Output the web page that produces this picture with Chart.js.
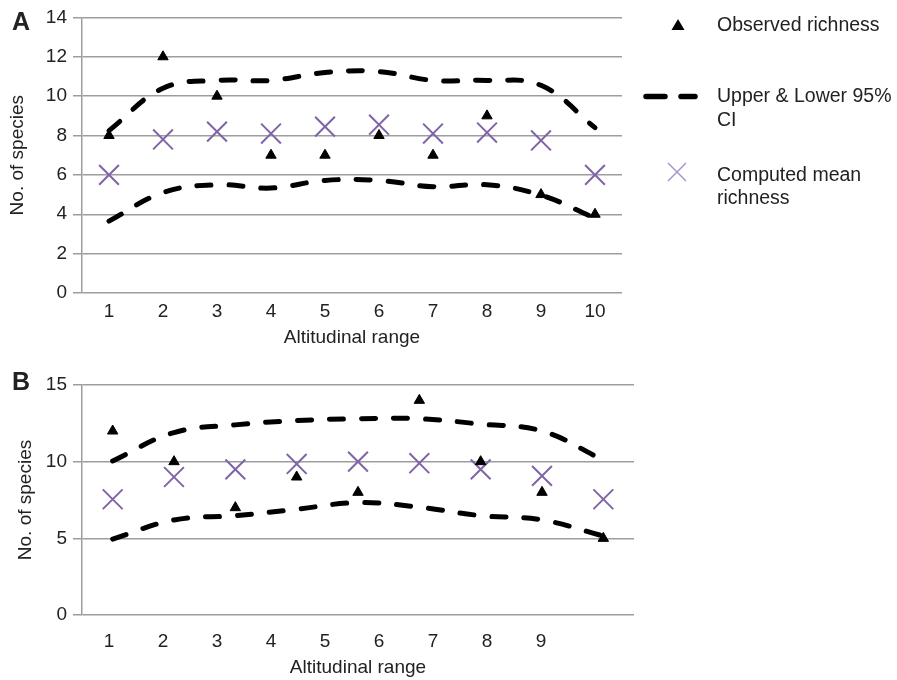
<!DOCTYPE html>
<html>
<head>
<meta charset="utf-8">
<script src="https://cdn.jsdelivr.net/npm/chart.js@4.4.0/dist/chart.umd.min.js"></script>
<style>
  body { margin: 0; background: #fff; }
  .panel { position: absolute; left: 0; width: 897px; }
  #panelA { top: 0; height: 360px; }
  #panelB { top: 360px; height: 320px; }
</style>
</head>
<body>
<div class="panel" id="panelA"><canvas id="chartA"></canvas></div>
<div class="panel" id="panelB"><canvas id="chartB"></canvas></div>
<script>
// Panel A - ten altitudinal ranges
const rangesA = ['1', '2', '3', '4', '5', '6', '7', '8', '9', '10'];
const observedA = [8, 12, 10, 7, 7, 8, 7, 9, 5, 4];
const meanA = [6, 7.8, 8.2, 8.1, 8.45, 8.55, 8.1, 8.15, 7.75, 6];
const upperA = [8.25, 10.4, 10.8, 10.8, 11.2, 11.25, 10.8, 10.8, 10.55, 8.4];
const lowerA = [3.65, 5.1, 5.5, 5.33, 5.72, 5.72, 5.4, 5.5, 4.97, 3.8];

// Panel B - nine ranges, tick labels printed on the ten-slot axis of panel A
const rangesB = ['1', '2', '3', '4', '5', '6', '7', '8', '9'];
const observedB = [12, 10, 7, 9, 8, 14, 10, 8, 5];
const meanB = [7.55, 9.0, 9.5, 9.85, 10.0, 9.9, 9.5, 9.07, 7.55];
const upperB = [10.05, 11.9, 12.4, 12.68, 12.8, 12.8, 12.45, 12.0, 10.1];
const lowerB = [4.95, 6.2, 6.48, 6.9, 7.33, 7.03, 6.48, 6.2, 5.15];
const tickLabelsB = [1, 2, 3, 4, 5, 6, 7, 8, 9];

const legendLabels = ['Observed richness', ['Upper & Lower 95%', 'CI'], ['Computed mean', 'richness']];

const FONT = '"Liberation Sans", Arial, Helvetica, sans-serif';
const TEXT = '#222';
const GRID = '#9d9d9d';
const PURPLE = '#8064a8';

function buildDatasets(observed, mean, upper, lower) {
  const dashed = {
    borderColor: '#000',
    borderWidth: 5,
    borderDash: [14, 18],
    borderCapStyle: 'round',
    tension: 0.4,
    pointRadius: 0,
    fill: false
  };
  return [
    {
      label: 'Observed richness',
      data: observed,
      showLine: false,
      pointStyle: 'triangle',
      pointRadius: 6,
      pointBackgroundColor: '#000',
      pointBorderColor: '#000',
      pointBorderWidth: 1
    },
    {
      label: 'Computed mean richness',
      data: mean,
      showLine: false,
      pointStyle: 'crossRot',
      pointRadius: 14,
      pointBorderColor: PURPLE,
      pointBorderWidth: 2
    },
    Object.assign({ label: 'Upper 95% CI', data: upper }, dashed),
    Object.assign({ label: 'Lower 95% CI', data: lower }, dashed)
  ];
}

// big bold panel letter in the top left corner
const panelLabel = {
  id: 'panelLabel',
  afterDraw(chart, args, opts) {
    const ctx = chart.ctx;
    ctx.save();
    ctx.font = 'bold 25px ' + FONT;
    ctx.fillStyle = TEXT;
    ctx.textBaseline = 'middle';
    ctx.fillText(opts.text, 12, opts.y);
    ctx.restore();
  }
};

// legend to the right of panel A
const sideLegend = {
  id: 'sideLegend',
  afterDraw(chart) {
    const ctx = chart.ctx;
    ctx.save();
    ctx.font = '19.5px ' + FONT;
    ctx.fillStyle = TEXT;
    ctx.textBaseline = 'middle';

    // triangle
    ctx.fillStyle = '#000';
    ctx.beginPath();
    ctx.moveTo(678, 19);
    ctx.lineTo(684.5, 30);
    ctx.lineTo(671.5, 30);
    ctx.closePath();
    ctx.fill();
    ctx.fillStyle = TEXT;
    ctx.fillText(legendLabels[0], 717, 26);

    // dashes
    ctx.strokeStyle = '#000';
    ctx.lineWidth = 5.5;
    ctx.lineCap = 'round';
    ctx.beginPath();
    ctx.moveTo(646, 96.5);
    ctx.lineTo(665, 96.5);
    ctx.moveTo(681, 96.5);
    ctx.lineTo(695, 96.5);
    ctx.stroke();
    ctx.fillText(legendLabels[1][0], 717, 96.5);
    ctx.fillText(legendLabels[1][1], 717, 120.5);

    // cross
    ctx.strokeStyle = '#a894cf';
    ctx.lineWidth = 1.5;
    ctx.lineCap = 'butt';
    ctx.beginPath();
    ctx.moveTo(668, 163);
    ctx.lineTo(686, 181);
    ctx.moveTo(686, 163);
    ctx.lineTo(668, 181);
    ctx.stroke();
    ctx.fillText(legendLabels[2][0], 717, 175.5);
    ctx.fillText(legendLabels[2][1], 717, 198.5);
    ctx.restore();
  }
};

function yAxis(max, step, titlePad) {
  return {
    min: 0,
    max: max,
    ticks: { stepSize: step, padding: 6, color: TEXT, font: { family: FONT, size: 19 } },
    grid: { color: GRID, lineWidth: 1.5, tickLength: 9 },
    border: { display: true, color: GRID, width: 1.5 },
    title: {
      display: true,
      text: 'No. of species',
      color: TEXT,
      font: { family: FONT, size: 19 },
      padding: { top: titlePad, bottom: 0 }
    },
    afterFit(scale) { scale.width = 82; }
  };
}

function xTitle(padBottom) {
  return {
    display: true,
    text: 'Altitudinal range',
    color: TEXT,
    font: { family: FONT, size: 19 },
    padding: { top: 0, bottom: padBottom }
  };
}

new Chart(document.getElementById('chartA'), {
  type: 'line',
  data: {
    labels: rangesA,
    datasets: buildDatasets(observedA, meanA, upperA, lowerA)
  },
  options: {
    responsive: true,
    maintainAspectRatio: false,
    animation: false,
    layout: { padding: { top: 14, right: 275, left: 0, bottom: 0 } },
    plugins: {
      legend: { display: false },
      tooltip: { enabled: false },
      panelLabel: { text: 'A', y: 23 }
    },
    scales: {
      x: {
        offset: true,
        grid: { display: false, drawTicks: false },
        border: { display: false },
        ticks: { padding: 7, color: TEXT, font: { family: FONT, size: 19 } },
        title: xTitle(10.5),
        afterFit(scale) { scale.height = 67; }
      },
      y: yAxis(14, 2, 6)
    }
  },
  plugins: [panelLabel, sideLegend]
});

new Chart(document.getElementById('chartB'), {
  type: 'line',
  data: {
    labels: rangesB,
    datasets: buildDatasets(observedB, meanB, upperB, lowerB)
  },
  options: {
    responsive: true,
    maintainAspectRatio: false,
    animation: false,
    layout: { padding: { top: 25, right: 263, left: 0, bottom: 0 } },
    plugins: {
      legend: { display: false },
      tooltip: { enabled: false },
      panelLabel: { text: 'B', y: 23 }
    },
    scales: {
      x: {
        type: 'category',
        offset: true,
        display: false
      },
      xt: {
        type: 'linear',
        position: 'bottom',
        min: 0.5,
        max: 10.72,
        afterBuildTicks(axis) {
          axis.ticks = tickLabelsB.map((v) => ({ value: v }));
        },
        grid: { display: false, drawTicks: false },
        border: { display: false },
        ticks: { padding: 15, color: TEXT, font: { family: FONT, size: 19 } },
        title: xTitle(1),
        afterFit(scale) { scale.height = 65; }
      },
      y: yAxis(15, 5, 14)
    }
  },
  plugins: [panelLabel]
});
</script>
</body>
</html>
